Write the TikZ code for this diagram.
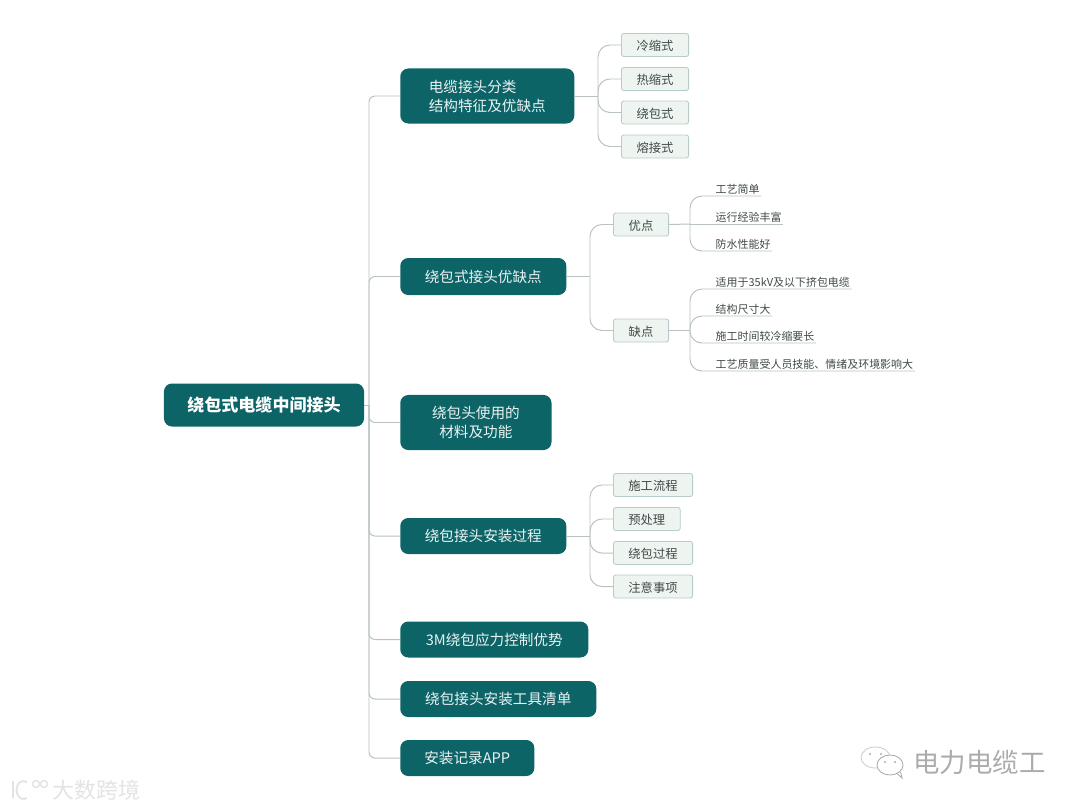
\documentclass[tikz,border=0pt]{standalone}
\usepackage{fontspec}
\setmainfont{Noto Sans CJK SC}
\usepackage{tikz}
\usetikzlibrary{positioning,calc}
\definecolor{mapteal}{HTML}{0C6467}
\definecolor{mapline}{HTML}{B9C1C1}
\definecolor{mapsoft}{HTML}{EEF5F1}
\definecolor{mapedge}{HTML}{B7CCC8}
\definecolor{maptext}{HTML}{3F4A48}
\definecolor{markgray}{HTML}{E3E3E3}
\definecolor{markdark}{HTML}{ABABAB}
\tikzset{
  link/.style={draw=mapline,line width=0.7pt},
  branch/.style={link,rounded corners=0.15cm},
  twig/.style={link,rounded corners=0.3cm},
  rootbox/.style={fill=mapteal,rounded corners=0.2cm,text=white,inner sep=0pt,
    minimum height=1.075cm,font=\fontsize{12.1}{15}\selectfont\bfseries},
  topic/.style={fill=mapteal,rounded corners=0.2cm,text=white!92!mapteal,inner sep=0pt,
    align=center,anchor=west,font=\fontsize{10.4}{13.5}\selectfont},
  subtopic/.style={fill=mapsoft,draw=mapedge,line width=0.6pt,rounded corners=0.06cm,text=maptext,
    inner sep=0pt,minimum height=0.575cm,anchor=west,text height=8.6pt,text depth=0.6pt,
    font=\fontsize{8.75}{10}\selectfont},
  leaf/.style={text=maptext,inner xsep=1pt,inner ysep=0.4pt,anchor=south west,
    text height=6.6pt,text depth=1.2pt,font=\fontsize{7.8}{9}\selectfont}
}

\begin{document}
\begin{tikzpicture}[x=0.025cm,y=-0.025cm]
\useasboundingbox (0,0) rectangle (1080,810);
\node[rootbox,minimum width=5cm] (root) at (264,405) {绕包式电缆中间接头};

% main topics
\node[topic,align=left,minimum width=4.35cm,minimum height=1.375cm] (kinds) at (400,96) {电缆接头分类\\结构特征及优缺点};
\node[topic,minimum width=4.15cm,minimum height=0.925cm] (merits) at (400,276.5) {绕包式接头优缺点};
\node[topic,minimum width=3.78cm,minimum height=1.375cm] (material) at (400,422.5) {绕包头使用的\\材料及功能};
\node[topic,minimum width=4.15cm,minimum height=0.9cm] (install) at (400,536) {绕包接头安装过程};
\node[topic,minimum width=4.7cm,minimum height=0.9cm] (stress) at (400,639.5) {3M绕包应力控制优势};
\node[topic,minimum width=4.9cm,minimum height=0.9cm] (tools) at (400,699) {绕包接头安装工具清单};
\node[topic,minimum width=3.35cm,minimum height=0.9cm] (record) at (400,758) {安装记录APP};

% joint types
\node[subtopic,minimum width=1.68cm] (cold) at (621,45) {冷缩式};
\node[subtopic,minimum width=1.68cm] (heat) at (621,79) {热缩式};
\node[subtopic,minimum width=1.68cm] (wrap) at (621,112.5) {绕包式};
\node[subtopic,minimum width=1.68cm] (fuse) at (621,146.5) {熔接式};

% good and bad points
\node[subtopic,minimum width=1.38cm] (good) at (613,224.5) {优点};
\node[subtopic,minimum width=1.38cm] (bad) at (613,330.5) {缺点};
\node[leaf] (goodA) at (714,196) {工艺简单};
\node[leaf] (goodB) at (714,224) {运行经验丰富};
\node[leaf] (goodC) at (714,251) {防水性能好};
\node[leaf] (badA) at (714,289) {适用于35kV及以下挤包电缆};
\node[leaf] (badB) at (714,316) {结构尺寸大};
\node[leaf] (badC) at (714,343) {施工时间较冷缩要长};
\node[leaf] (badD) at (714,371) {工艺质量受人员技能、情绪及环境影响大};

% install steps
\node[subtopic,minimum width=1.98cm] (flow) at (613,485) {施工流程};
\node[subtopic,minimum width=1.67cm] (prep) at (613,519) {预处理};
\node[subtopic,minimum width=1.98cm] (wrapping) at (613,553) {绕包过程};
\node[subtopic,minimum width=1.98cm] (notes) at (613,586.5) {注意事项};

% forks
\coordinate (rootfork) at (369,405);
\coordinate (kindsfork) at (598,96);
\coordinate (meritsfork) at (590,276.5);
\coordinate (goodfork) at (690,224);
\coordinate (badfork) at (690,330.5);
\coordinate (installfork) at (590,536);

\draw[link] (root.east)--(rootfork);
\draw[branch] (rootfork) |- (kinds.west);
\draw[branch] (rootfork) |- (merits.west);
\draw[branch] (rootfork) |- (material.west);
\draw[branch] (rootfork) |- (install.west);
\draw[branch] (rootfork) |- (stress.west);
\draw[branch] (rootfork) |- (tools.west);
\draw[branch] (rootfork) |- (record.west);

\draw[link] (kinds.east)--(kindsfork);
\draw[twig] (kindsfork) |- (cold.west);
\draw[twig] (kindsfork) |- (heat.west);
\draw[twig] (kindsfork) |- (wrap.west);
\draw[twig] (kindsfork) |- (fuse.west);

\draw[link] (merits.east)--(meritsfork);
\draw[twig] (meritsfork) |- (good.west);
\draw[twig] (meritsfork) |- (bad.west);

\draw[link] (good.east)--(goodfork);
\draw[twig] (goodfork) |- (goodA.south east);
\draw[twig] (goodfork) -- (goodB.south east);
\draw[twig] (goodfork) |- (goodC.south east);

\draw[link] (bad.east)--(badfork);
\draw[twig] (badfork) |- (badA.south east);
\draw[twig] (badfork) |- (badB.south east);
\draw[twig] (badfork) |- (badC.south east);
\draw[twig] (badfork) |- (badD.south east);

\draw[link] (install.east)--(installfork);
\draw[twig] (installfork) |- (flow.west);
\draw[twig] (installfork) |- (prep.west);
\draw[twig] (installfork) |- (wrapping.west);
\draw[twig] (installfork) |- (notes.west);

% watermarks
\node[text=markgray,inner sep=0pt,anchor=west,font=\fontsize{15.6}{18}\selectfont] (markleft) at (52,790) {大数跨境};
\draw[markgray,line width=1.3pt] (13,781)--(13,798);
\draw[markgray,line width=1.3pt] (27,797.8) arc (60:300:7 and 9);
\draw[markgray,line width=1pt] (36,784) circle (3.5 and 3.5) (44,784) circle (3.5 and 3.5);
\node[text=markdark,inner sep=0pt,anchor=west,font=\fontsize{18.8}{22}\selectfont] (markright) at (913,762) {电力电缆工};
\draw[markgray!90!black,line width=0.6pt] (875.5,757.5) ellipse (14.5 and 10.5);
\draw[markdark,fill=white,line width=0.6pt] (890,765) ellipse (13 and 10);
\draw[markdark,line width=0.6pt] (897,773.5)--(902,778)--(900.5,772);
\fill[markdark] (885,762) circle (1.1) (895,762) circle (1.1) (870,754) circle (1.1) (881,754) circle (1.1);
\end{tikzpicture}
\end{document}
